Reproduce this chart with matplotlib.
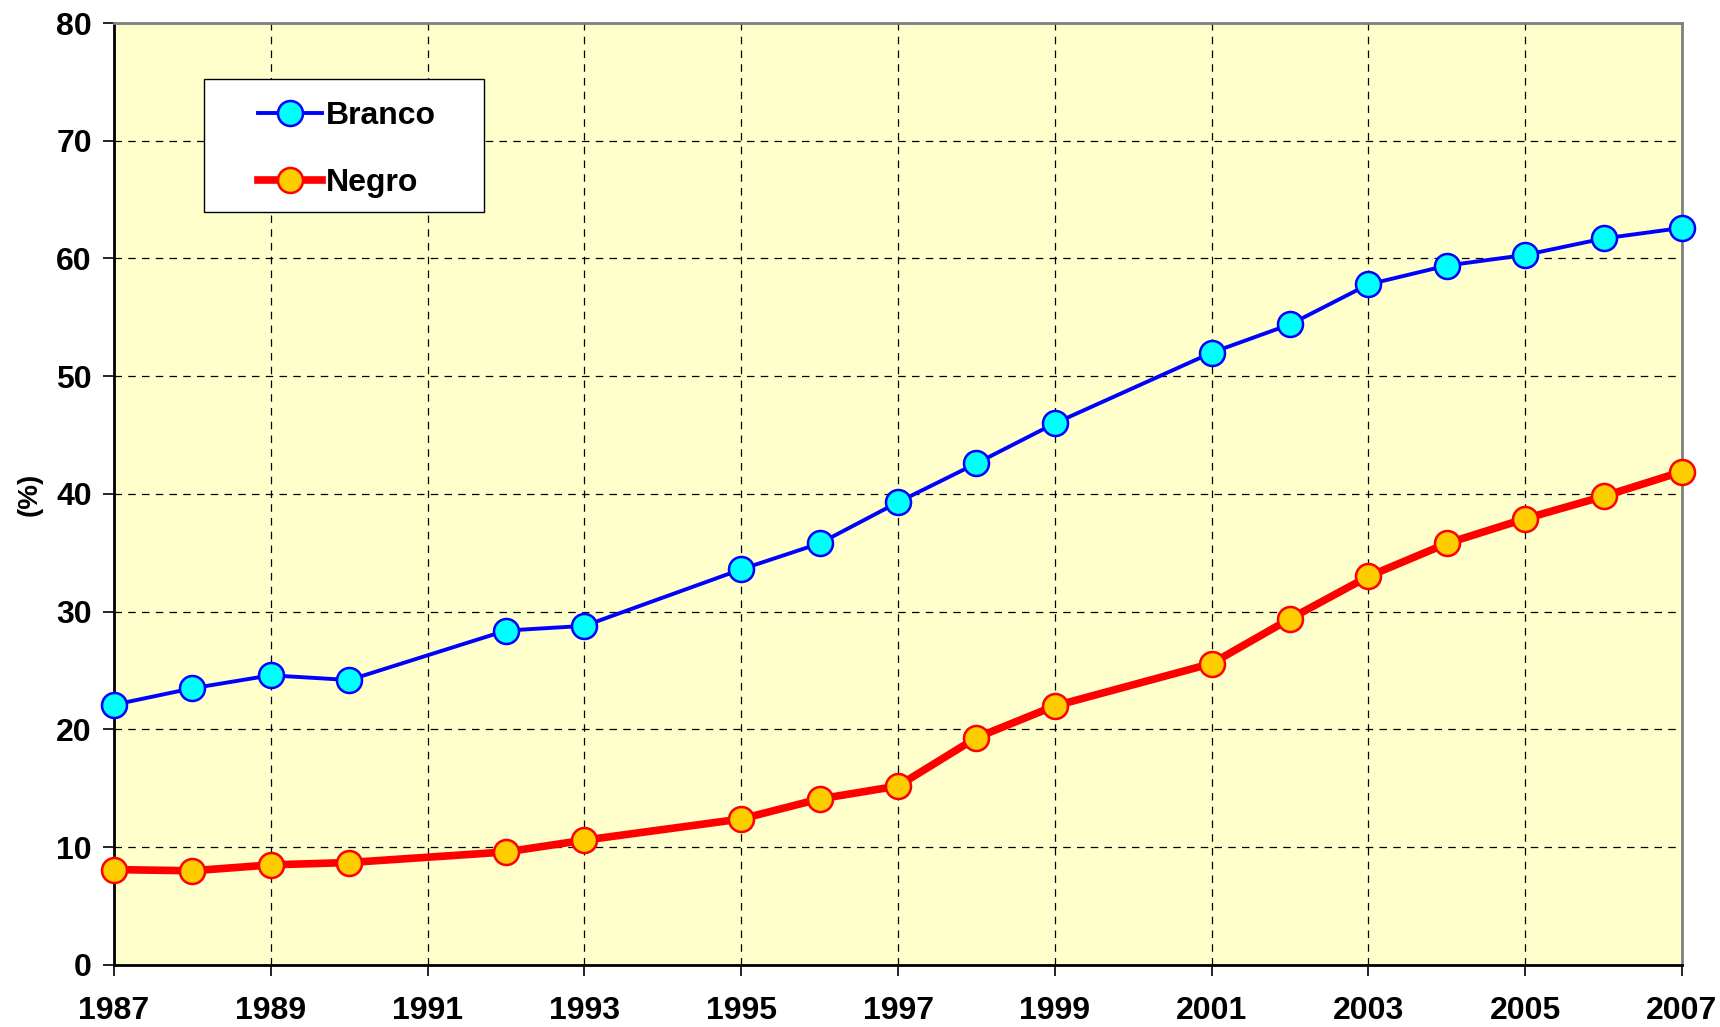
import matplotlib.pyplot as plt
from matplotlib.patches import Rectangle

# data
anos = [1987, 1988, 1989, 1990, 1992, 1993, 1995, 1996, 1997, 1998, 1999,
        2001, 2002, 2003, 2004, 2005, 2006, 2007]
branco = [22.1, 23.5, 24.6, 24.2, 28.4, 28.8, 33.6, 35.8, 39.3, 42.6, 46.0,
          52.0, 54.4, 57.8, 59.4, 60.3, 61.7, 62.6]
negro = [8.1, 8.0, 8.5, 8.7, 9.6, 10.6, 12.4, 14.1, 15.2, 19.3, 22.0,
         25.6, 29.4, 33.0, 35.8, 37.9, 39.8, 41.9]
xticks = list(range(1987, 2008, 2))
yticks = list(range(0, 81, 10))

plt.rcParams['font.family'] = ['Liberation Sans', 'DejaVu Sans']
plt.rcParams['font.weight'] = 'bold'

fig = plt.figure(figsize=(17.2, 10.27), dpi=100)
ax = fig.add_axes([0.0663, 0.0604, 0.9116, 0.9172])
ax.set_facecolor('#FFFFCC')

ax.plot(anos, branco, color='#0000FF', lw=2.8, marker='o', ms=18,
        mfc='#00FFFF', mec='#0000FF', mew=1.8, label='Branco', zorder=3,
        clip_on=False)
ax.plot(anos, negro, color='#FF0000', lw=5.5, marker='o', ms=18,
        mfc='#FFCC00', mec='#FF0000', mew=1.8, label='Negro', zorder=3,
        clip_on=False)

ax.set_xlim(1987, 2007)
ax.set_ylim(0, 80)
ax.set_xticks(xticks)
ax.set_yticks(yticks)
ax.tick_params(axis='both', labelsize=23, direction='out', length=8,
               width=1.2, pad=8)
ax.tick_params(axis='x', pad=14)
for lab in ax.get_xticklabels() + ax.get_yticklabels():
    lab.set_fontweight('bold')
ax.set_ylabel('(%)', fontsize=20, fontweight='bold', labelpad=10)

ax.grid(True, color='black', ls=(0, (6, 5)), lw=0.9)
ax.set_axisbelow(True)
for s in ['left', 'bottom']:
    ax.spines[s].set_color('black')
    ax.spines[s].set_linewidth(2)
for s in ['top', 'right']:
    ax.spines[s].set_color('#808080')
    ax.spines[s].set_linewidth(2)

# legend frame drawn separately (wider horizontal padding than vertical)
ax.add_patch(Rectangle((0.0574, 0.7994), 0.1786, 0.1412, transform=ax.transAxes,
                       facecolor='white', edgecolor='black', lw=1.0, zorder=4.9))
leg = ax.legend(loc='center', bbox_to_anchor=(0.1486, 0.8655),
                borderaxespad=0, frameon=False,
                prop={'size': 23, 'weight': 'bold'},
                handlelength=2.0, handletextpad=0.1, labelspacing=1.15,
                borderpad=0)

fig.savefig('out.png', dpi=100)
